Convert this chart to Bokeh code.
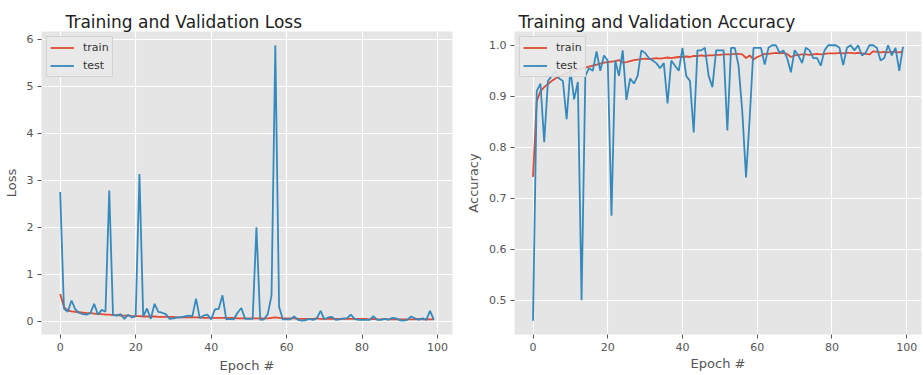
from bokeh.plotting import figure
from bokeh.layouts import row
from bokeh.models import Range1d, FixedTicker, PrintfTickFormatter, Legend, LegendItem
from bokeh.embed import file_html
from bokeh.resources import INLINE

epochs = list(range(100))

loss_train = [0.58, 0.30, 0.23, 0.21, 0.20, 0.19, 0.18, 0.17, 0.17, 0.16,
              0.15, 0.15, 0.14, 0.14, 0.13, 0.13, 0.12, 0.12, 0.12, 0.11,
              0.11, 0.11, 0.10, 0.10, 0.10, 0.10, 0.09, 0.09, 0.09, 0.09,
              0.09, 0.08, 0.08, 0.08, 0.08, 0.08, 0.08, 0.08, 0.07, 0.07,
              0.07, 0.07, 0.07, 0.07, 0.07, 0.07, 0.07, 0.06, 0.06, 0.06,
              0.06, 0.06, 0.06, 0.06, 0.06, 0.06, 0.07, 0.08, 0.07, 0.06,
              0.06, 0.06, 0.06, 0.05, 0.05, 0.05, 0.05, 0.05, 0.06, 0.05,
              0.05, 0.05, 0.05, 0.05, 0.05, 0.05, 0.05, 0.05, 0.05, 0.05,
              0.05, 0.05, 0.04, 0.05, 0.04, 0.04, 0.05, 0.04, 0.04, 0.04,
              0.04, 0.04, 0.04, 0.04, 0.04, 0.05, 0.04, 0.04, 0.04, 0.04]

loss_test = [2.75, 0.27, 0.20, 0.44, 0.25, 0.18, 0.15, 0.14, 0.17, 0.37,
             0.14, 0.24, 0.20, 2.78, 0.13, 0.12, 0.15, 0.05, 0.14, 0.08,
             0.10, 3.13, 0.10, 0.27, 0.05, 0.37, 0.20, 0.18, 0.15, 0.05,
             0.06, 0.08, 0.08, 0.10, 0.12, 0.10, 0.48, 0.06, 0.12, 0.14,
             0.04, 0.25, 0.26, 0.55, 0.04, 0.05, 0.04, 0.18, 0.28, 0.05,
             0.05, 0.05, 2.00, 0.03, 0.04, 0.15, 0.55, 5.87, 0.30, 0.04,
             0.04, 0.04, 0.10, 0.03, 0.01, 0.02, 0.05, 0.03, 0.06, 0.22,
             0.04, 0.08, 0.09, 0.03, 0.04, 0.06, 0.06, 0.14, 0.05, 0.03,
             0.03, 0.03, 0.03, 0.11, 0.03, 0.03, 0.05, 0.03, 0.07, 0.06,
             0.02, 0.01, 0.03, 0.10, 0.06, 0.03, 0.06, 0.03, 0.22, 0.03]

acc_train = [0.742, 0.890, 0.910, 0.918, 0.924, 0.930, 0.935, 0.939, 0.942, 0.945,
             0.948, 0.950, 0.952, 0.954, 0.956, 0.958, 0.960, 0.962, 0.964, 0.966,
             0.967, 0.968, 0.969, 0.971, 0.966, 0.967, 0.969, 0.971, 0.972, 0.973,
             0.974, 0.973, 0.974, 0.975, 0.974, 0.975, 0.976, 0.975, 0.976, 0.977,
             0.977, 0.978, 0.977, 0.979, 0.979, 0.980, 0.979, 0.980, 0.980, 0.981,
             0.981, 0.982, 0.982, 0.982, 0.983, 0.983, 0.982, 0.975, 0.980, 0.972,
             0.977, 0.980, 0.983, 0.983, 0.984, 0.985, 0.984, 0.985, 0.983, 0.977,
             0.980, 0.981, 0.982, 0.982, 0.981, 0.982, 0.983, 0.982, 0.983, 0.984,
             0.984, 0.984, 0.985, 0.984, 0.985, 0.985, 0.984, 0.985, 0.984, 0.983,
             0.982, 0.988, 0.987, 0.986, 0.987, 0.986, 0.987, 0.987, 0.986, 0.988]

acc_test = [0.460, 0.910, 0.925, 0.810, 0.930, 0.940, 0.950, 0.935, 0.930, 0.855,
            0.952, 0.894, 0.928, 0.500, 0.940, 0.955, 0.950, 0.988, 0.950, 0.980,
            0.970, 0.666, 0.970, 0.940, 0.990, 0.893, 0.935, 0.925, 0.940, 0.990,
            0.985, 0.975, 0.970, 0.965, 0.955, 0.965, 0.886, 0.970, 0.960, 0.950,
            0.995, 0.940, 0.930, 0.829, 0.990, 0.990, 0.995, 0.940, 0.918, 0.990,
            0.990, 0.990, 0.833, 0.995, 0.995, 0.960, 0.870, 0.741, 0.860, 0.995,
            0.995, 0.995, 0.962, 0.995, 1.000, 1.000, 0.985, 0.990, 0.975, 0.947,
            0.990, 0.980, 0.965, 0.995, 0.990, 0.975, 0.975, 0.960, 0.990, 1.000,
            1.000, 1.000, 0.995, 0.961, 0.995, 1.000, 0.990, 1.000, 0.980, 0.985,
            1.000, 1.000, 0.995, 0.970, 0.975, 1.000, 0.980, 0.995, 0.950, 0.997]

x_ticks = [0, 20, 40, 60, 80, 100]
loss_ticks = [0, 1, 2, 3, 4, 5, 6]
acc_ticks = [0.5, 0.6, 0.7, 0.8, 0.9, 1.0]

RED = "#E24A33"
BLUE = "#348ABD"
FONT = "DejaVu Sans"


def padded(lo, hi, frac=0.05):
    span = hi - lo
    return lo - frac * span, hi + frac * span


def make_fig(title, ylabel, ytrain, ytest, yticks, width, height,
             bl, br, bt, bb, title_off, fmt, xlab_standoff):
    x0, x1 = padded(min(epochs), max(epochs))
    ylo = min(min(ytrain), min(ytest))
    yhi = max(max(ytrain), max(ytest))
    y0, y1 = padded(ylo, yhi)
    p = figure(width=width, height=height, output_backend="svg",
               toolbar_location=None, x_range=Range1d(x0, x1),
               y_range=Range1d(y0, y1),
               min_border_left=bl, min_border_right=br,
               min_border_top=bt, min_border_bottom=bb)
    p.title.text = title
    p.title.text_font = FONT
    p.title.text_font_size = "17px"
    p.title.text_font_style = "normal"
    p.title.text_color = "#222222"
    p.title.align = "left"
    p.title.offset = title_off
    p.title.standoff = 0
    p.background_fill_color = "#E5E5E5"
    p.border_fill_color = "white"
    p.outline_line_color = None

    for ax in (p.xaxis[0], p.yaxis[0]):
        ax.axis_line_color = None
        ax.major_tick_line_color = "#555555"
        ax.major_tick_out = 4
        ax.major_tick_in = 0
        ax.minor_tick_line_color = None
        ax.major_label_text_font = FONT
        ax.major_label_text_font_size = "11px"
        ax.major_label_text_color = "#555555"
        ax.axis_label_text_font = FONT
        ax.axis_label_text_font_size = "13px"
        ax.axis_label_text_font_style = "normal"
        ax.axis_label_text_color = "#555555"
        ax.major_label_standoff = 4
        ax.axis_label_standoff = 4
    p.yaxis.axis_label_standoff = 5
    p.xaxis.axis_label_standoff = xlab_standoff
    p.xaxis.ticker = FixedTicker(ticks=x_ticks)
    p.yaxis.ticker = FixedTicker(ticks=yticks)
    p.yaxis.formatter = PrintfTickFormatter(format=fmt)
    p.xaxis.axis_label = "Epoch #"
    p.yaxis.axis_label = ylabel

    p.grid.grid_line_color = "white"
    p.grid.grid_line_width = 1.2

    r1 = p.line(epochs, ytrain, line_color=RED, line_width=1.8)
    r2 = p.line(epochs, ytest, line_color=BLUE, line_width=1.8)
    legend = Legend(items=[LegendItem(label="train", renderers=[r1]),
                           LegendItem(label="test", renderers=[r2])],
                    location="top_left")
    legend.label_text_font = FONT
    legend.label_text_font_size = "11px"
    legend.label_text_color = "#333333"
    legend.background_fill_color = "#E9E9E9"
    legend.background_fill_alpha = 0.9
    legend.border_line_color = "#CCCCCC"
    legend.border_line_alpha = 0.8
    legend.glyph_width = 24
    legend.glyph_height = 15
    legend.label_height = 15
    legend.label_standoff = 9
    legend.spacing = 3
    legend.padding = 3
    legend.margin = 5
    p.add_layout(legend)
    return p


p1 = make_fig("Training and Validation Loss", "Loss", loss_train, loss_test,
              loss_ticks, 460, 375, 41, 8, 30, 41, 24, "%d", 4)
p2 = make_fig("Training and Validation Accuracy", "Accuracy", acc_train, acc_test,
              acc_ticks, 463, 375, 54, 2, 31, 39, 4, "%.1f", 2)

layout = row(p1, p2)
open("out.html", "w").write(file_html(layout, INLINE))
